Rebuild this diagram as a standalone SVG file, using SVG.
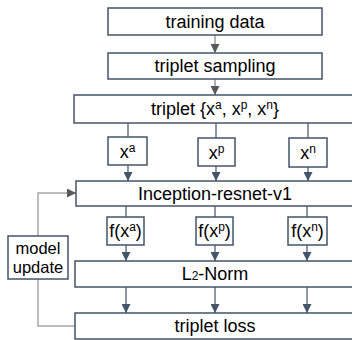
<svg xmlns="http://www.w3.org/2000/svg" width="352" height="340" viewBox="0 0 352 340">
<defs>
<style>
.box{fill:#fff;stroke:#44546A;stroke-width:1.5}
.t{font-family:"Liberation Sans",Arial,sans-serif;font-size:18px;fill:#000;text-anchor:middle}
.m{font-size:16.5px}
.s{font-size:12px}
.c{fill:none;stroke:#44546A;stroke-width:1.2}
.g{fill:none;stroke:#808080;stroke-width:1.2}
.f{fill:none;stroke:#a6a6a6;stroke-width:1.5}
</style>
<marker id="ab" viewBox="0 0 10 10" refX="10" refY="5" markerWidth="9" markerHeight="9" markerUnits="userSpaceOnUse" orient="auto"><path d="M0,0L10,5L0,10z" fill="#44546A"/></marker>
<marker id="ag" viewBox="0 0 10 10" refX="10" refY="5" markerWidth="9" markerHeight="9" markerUnits="userSpaceOnUse" orient="auto"><path d="M0,0L10,5L0,10z" fill="#595959"/></marker>
</defs>
<rect width="352" height="340" fill="#fff"/>
<g id="connectors">
<path class="g" d="M215,35V53" marker-end="url(#ag)"/>
<path class="g" d="M215,79V95" marker-end="url(#ag)"/>
<path class="c" d="M128,123V137M216,123V138M308,123V138"/>
<path class="c" d="M128,165V181" marker-end="url(#ab)"/>
<path class="c" d="M216,166V181" marker-end="url(#ab)"/>
<path class="c" d="M308,167V181" marker-end="url(#ab)"/>
<path class="c" d="M126,206V217M215,206V217M307,206V217"/>
<path class="c" d="M126,245V261" marker-end="url(#ab)"/>
<path class="c" d="M215,245V261" marker-end="url(#ab)"/>
<path class="c" d="M307,245V261" marker-end="url(#ab)"/>
<path class="c" d="M126,287V313" marker-end="url(#ab)"/>
<path class="c" d="M215,287V313" marker-end="url(#ab)"/>
<path class="c" d="M307,287V313" marker-end="url(#ab)"/>
<path class="f" d="M38,236V193H66"/>
<path class="g" d="M66,193H76" marker-end="url(#ag)"/>
<path class="f" d="M38,279V326H75"/>
</g>
<g id="training-data"><rect class="box" x="108" y="8" width="214" height="27"/><text class="t" x="215" y="28">training data</text></g>
<g id="triplet-sampling"><rect class="box" x="108" y="53" width="214" height="26"/><text class="t" x="215" y="72">triplet sampling</text></g>
<g id="triplet"><rect class="box" x="74" y="95" width="282" height="28"/><text class="t" x="215" y="115">triplet {x<tspan class="s" dy="-6">a</tspan><tspan dy="6">, x</tspan><tspan class="s" dy="-6">p</tspan><tspan dy="6">, x</tspan><tspan class="s" dy="-6">n</tspan><tspan dy="6">}</tspan></text></g>
<g id="xa"><rect class="box" x="108" y="137" width="39" height="28"/><text class="t" x="127.5" y="158">x<tspan class="s" dy="-6">a</tspan></text></g>
<g id="xp"><rect class="box" x="198" y="138" width="37" height="28"/><text class="t" x="216.5" y="159">x<tspan class="s" dy="-6">p</tspan></text></g>
<g id="xn"><rect class="box" x="289" y="138" width="38" height="29"/><text class="t" x="308" y="159">x<tspan class="s" dy="-6">n</tspan></text></g>
<g id="inception"><rect class="box" x="76" y="181" width="280" height="25"/><text class="t" x="215" y="200">Inception-resnet-v1</text></g>
<g id="fxa"><rect class="box" x="107" y="217" width="37" height="28"/><text class="t" x="125.5" y="237">f(x<tspan class="s" dy="-6">a</tspan><tspan dy="6">)</tspan></text></g>
<g id="fxp"><rect class="box" x="196" y="217" width="37" height="28"/><text class="t" x="214.5" y="237">f(x<tspan class="s" dy="-6">p</tspan><tspan dy="6">)</tspan></text></g>
<g id="fxn"><rect class="box" x="288" y="217" width="39" height="28"/><text class="t" x="307.5" y="237">f(x<tspan class="s" dy="-6">n</tspan><tspan dy="6">)</tspan></text></g>
<g id="l2norm"><rect class="box" x="75" y="261" width="281" height="26"/><text class="t" x="215" y="280">L<tspan class="s">2</tspan>-Norm</text></g>
<g id="triplet-loss"><rect class="box" x="75" y="313" width="281" height="26"/><text class="t" x="215" y="332">triplet loss</text></g>
<g id="model-update"><rect class="box" x="8" y="236" width="60" height="43"/><text class="t m" x="38" y="254">model</text><text class="t m" x="38" y="273">update</text></g>
</svg>
